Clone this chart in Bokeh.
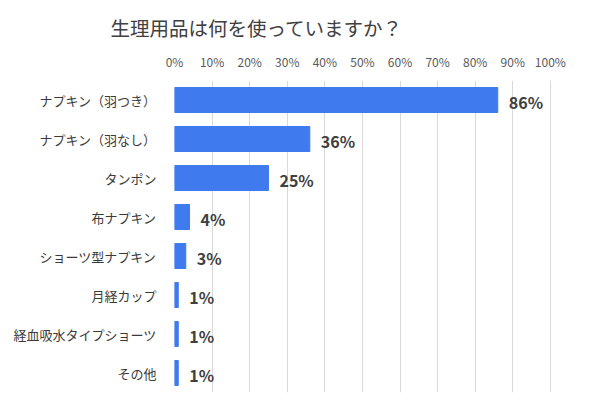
from bokeh.plotting import figure
from bokeh.models import FactorRange, Range1d, FixedTicker, NumeralTickFormatter, ColumnDataSource
from bokeh.core.properties import value
from bokeh.embed import file_html
from bokeh.resources import INLINE

title_text = "生理用品は何を使っていますか？"
categories = ["ナプキン（羽つき）", "ナプキン（羽なし）", "タンポン", "布ナプキン",
              "ショーツ型ナプキン", "月経カップ", "経血吸水タイプショーツ", "その他"]
percent_values = [86, 36, 25, 4, 3, 1, 1, 1]
tick_values = [0, 10, 20, 30, 40, 50, 60, 70, 80, 90, 100]

FONT = "Noto Sans CJK JP"
BAR = "#3F7BEF"
TXT = "#404040"

fr = [v / 100 for v in percent_values]
labels = [f"{v}%" for v in percent_values]
src = ColumnDataSource(dict(cat=categories, val=fr, lab=labels))

p = figure(width=600, height=414, output_backend="svg", toolbar_location=None,
           y_range=FactorRange(factors=list(reversed(categories))),
           x_range=Range1d(0, 1.003), x_axis_location="above",
           min_border_left=174, min_border_right=49, min_border_top=80, min_border_bottom=22)

p.hbar(y="cat", right="val", height=0.64, left=0, color=BAR, source=src)
p.text(x="val", y="cat", text="lab", source=src, x_offset=11, y_offset=2,
       text_baseline="middle", text_align="left", text_font=value(FONT),
       text_font_size="16px", text_font_style="bold", text_color=TXT)

p.title.text = title_text
p.title.align = "left"
p.title.offset = -64
p.title.standoff = 16
p.title.text_font = FONT
p.title.text_font_size = "19.5px"
p.title.text_font_style = "normal"
p.title.text_color = TXT

p.xaxis.ticker = FixedTicker(ticks=[t / 100 for t in tick_values])
p.xaxis.formatter = NumeralTickFormatter(format="0%")
p.xaxis.axis_line_color = None
p.xaxis.major_tick_line_color = None
p.xaxis.minor_tick_line_color = None
p.xaxis.major_label_text_font = FONT
p.xaxis.major_label_text_font_size = "12px"
p.xaxis.major_label_text_color = "#595959"
p.xaxis.major_label_standoff = 5

p.yaxis.axis_line_color = None
p.yaxis.major_tick_line_color = None
p.yaxis.minor_tick_line_color = None
p.yaxis.major_label_text_font = FONT
p.yaxis.major_label_text_font_size = "13px"
p.yaxis.major_label_text_color = "#3a3a3a"
p.yaxis.major_label_standoff = 12

p.xgrid.grid_line_color = "#d9d9d9"
p.ygrid.grid_line_color = None
p.outline_line_color = None
p.background_fill_color = "white"
p.border_fill_color = "white"

open("out.html", "w").write(file_html(p, INLINE))
